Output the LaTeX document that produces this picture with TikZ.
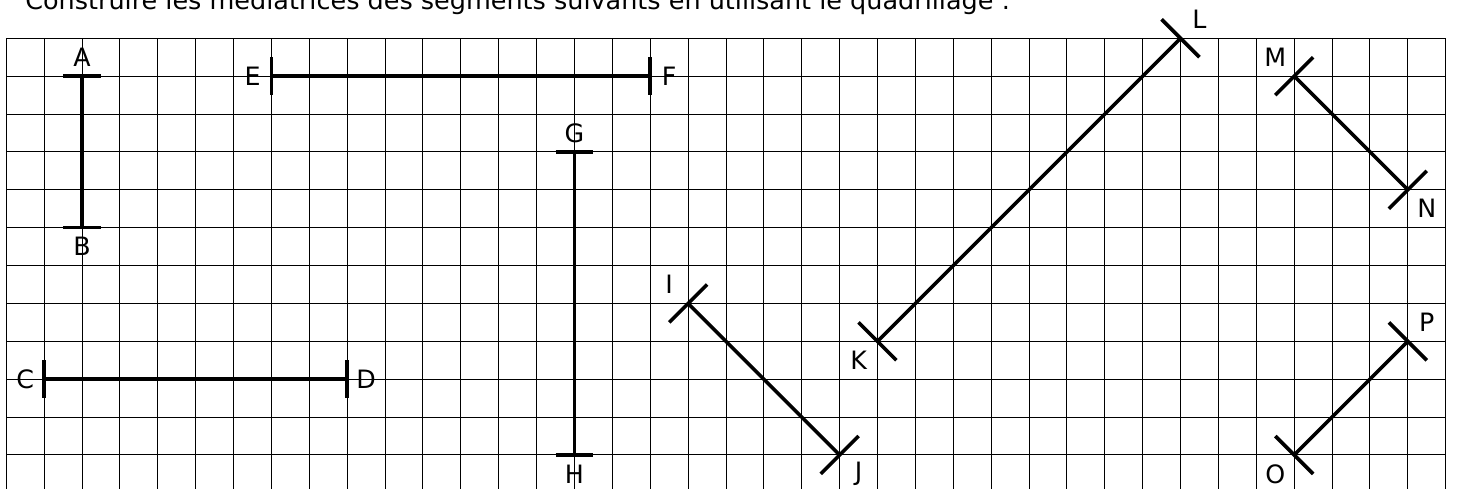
\documentclass[tikz,border=0pt]{standalone}
\usepackage{fontspec}
\setmainfont{DejaVu Sans}
\usetikzlibrary{calc}
\newcommand\mytickh[1]{\draw[tick] ($(#1)+(-0.5,0)$) -- ($(#1)+(0.5,0)$);}
\newcommand\mytickv[1]{\draw[tick] ($(#1)+(0,-0.5)$) -- ($(#1)+(0,0.5)$);}
\newcommand\mytickd[1]{\draw[tick] ($(#1)+(-0.5,-0.5)$) -- ($(#1)+(0.5,0.5)$);}
\newcommand\myticka[1]{\draw[tick] ($(#1)+(-0.5,0.5)$) -- ($(#1)+(0.5,-0.5)$);}
\begin{document}
\begin{tikzpicture}[x=1cm,y=-1cm,
  gridline/.style={line width=0.75pt, draw=black},
  seg/.style={line width=2.7pt, draw=black},
  tick/.style={line width=2.7pt, draw=black},
  lab/.style={inner sep=0pt, font=\fontsize{19}{22}\selectfont}]
\useasboundingbox (-0.166,-1.011) rectangle (38.377,11.898);
% grid
\foreach \i in {0,...,38} \draw[gridline] (\i,0) -- (\i,11.95);
\foreach \j in {0,...,11} \draw[gridline] (0,\j) -- (38,\j);
% title
\node[anchor=base west, inner sep=0pt, font=\fontsize{18.8}{22}\selectfont] (title) at (0.494,-0.747)
  {\resizebox{26cm}{\height}{Construire les médiatrices des segments suivants en utilisant le quadrillage :}};
% points
\coordinate (A) at (2,1);   \coordinate (B) at (2,5);
\coordinate (C) at (1,9);   \coordinate (D) at (9,9);
\coordinate (E) at (7,1);   \coordinate (F) at (17,1);
\coordinate (G) at (15,3);  \coordinate (H) at (15,11);
\coordinate (I) at (18,7);  \coordinate (J) at (22,11);
\coordinate (K) at (23,8);  \coordinate (L) at (31,0);
\coordinate (M) at (34,1);  \coordinate (N) at (37,4);
\coordinate (O) at (34,11); \coordinate (P) at (37,8);
% segments
\draw[seg] (A) -- (B); \mytickh{A} \mytickh{B}
\draw[seg] (C) -- (D); \mytickv{C} \mytickv{D}
\draw[seg] (E) -- (F); \mytickv{E} \mytickv{F}
\draw[seg] (G) -- (H); \mytickh{G} \mytickh{H}
\draw[seg] (I) -- (J); \myticka{I} \myticka{J}
\draw[seg] (K) -- (L); \mytickd{K} \mytickd{L}
\draw[seg] (M) -- (N); \myticka{M} \myticka{N}
\draw[seg] (O) -- (P); \mytickd{O} \mytickd{P}
% labels
\node[lab] (lA) at (2,0.5) {A};
\node[lab] (lB) at (2,5.5) {B};
\node[lab] (lC) at (0.5,9) {C};
\node[lab] (lD) at (9.5,9) {D};
\node[lab] (lE) at (6.5,1) {E};
\node[lab] (lF) at (17.5,1) {F};
\node[lab] (lG) at (15,2.5) {G};
\node[lab] (lH) at (15,11.5) {H};
\node[lab] (lI) at (17.5,6.5) {I};
\node[lab] (lJ) at (22.5,11.5) {J};
\node[lab] (lK) at (22.5,8.5) {K};
\node[lab] (lL) at (31.5,-0.5) {L};
\node[lab] (lM) at (33.5,0.5) {M};
\node[lab] (lN) at (37.5,4.5) {N};
\node[lab] (lO) at (33.5,11.5) {O};
\node[lab] (lP) at (37.5,7.5) {P};
\end{tikzpicture}
\end{document}
